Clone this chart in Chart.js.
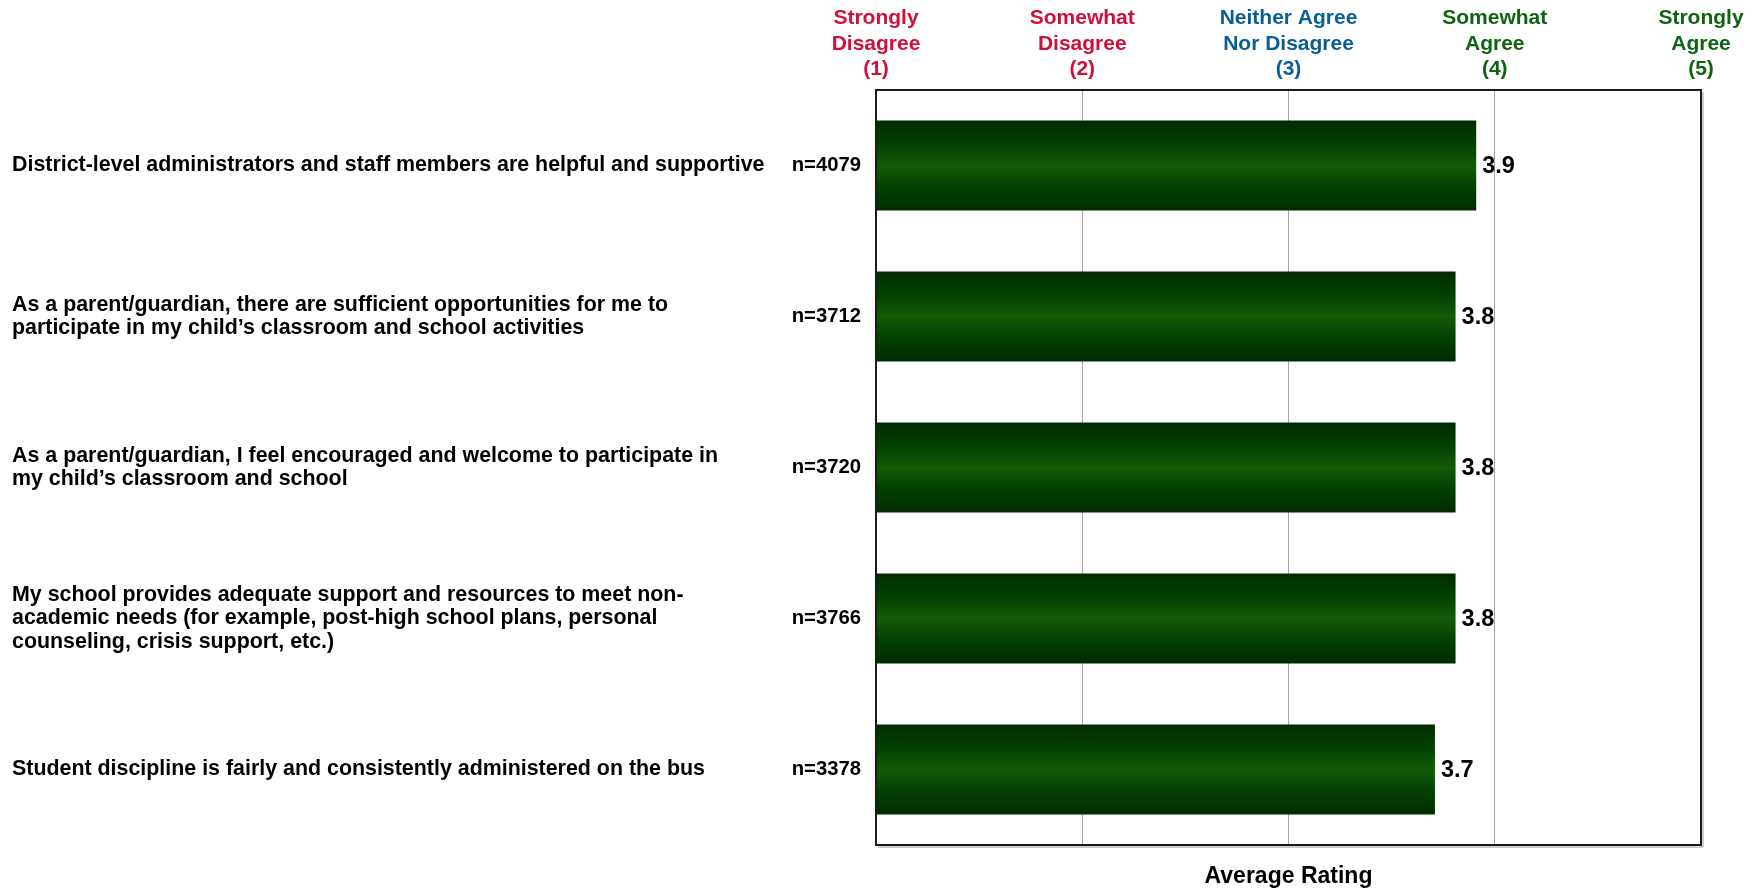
<!DOCTYPE html>
<html>
<head>
<meta charset="utf-8">
<script src="https://cdn.jsdelivr.net/npm/chart.js@4.4.1/dist/chart.umd.min.js"></script>
<style>
  html, body { margin: 0; padding: 0; background: #fff; }
  #wrap { width: 1762px; height: 890px; }
</style>
</head>
<body>
<div id="wrap"><canvas id="ratingChart"></canvas></div>
<script>
// questions (each one split into its printed lines)
var questions = [
  ["District-level administrators and staff members are helpful and supportive"],
  ["As a parent/guardian, there are sufficient opportunities for me to", "participate in my child\u2019s classroom and school activities"],
  ["As a parent/guardian, I feel encouraged and welcome to participate in", "my child\u2019s classroom and school"],
  ["My school provides adequate support and resources to meet non-", "academic needs (for example, post-high school plans, personal", "counseling, crisis support, etc.)"],
  ["Student discipline is fairly and consistently administered on the bus"]
];
var counts = ["n=4079", "n=3712", "n=3720", "n=3766", "n=3378"];
var ratings = [3.91, 3.81, 3.81, 3.81, 3.71];

// scale header labels, 1..5
var scaleLabels = [
  ["Strongly", "Disagree", "(1)"],
  ["Somewhat", "Disagree", "(2)"],
  ["Neither Agree", "Nor Disagree", "(3)"],
  ["Somewhat", "Agree", "(4)"],
  ["Strongly", "Agree", "(5)"]
];
var scaleColors = ["#d0103a", "#d0103a", "#0a5e96", "#0e6410", "#0e6410"];

var FONT = "'Liberation Sans', Arial, Helvetica, sans-serif";
var BAR_PCT = 0.595;

// each bar gets its own vertical gradient (dark edges, lighter middle)
function barFill(c) {
  const y = c.chart.scales.y;
  if (!y || !y.height) return '#0b4f0b';
  const mid = y.getPixelForValue(c.dataIndex);
  const h = y.height / questions.length * BAR_PCT;
  const top = mid - h / 2;
  const g = c.chart.ctx.createLinearGradient(0, top, 0, top + h);
  g.addColorStop(0, '#002c00');
  g.addColorStop(0.25, '#024002');
  g.addColorStop(0.5, '#105c05');
  g.addColorStop(0.75, '#024002');
  g.addColorStop(1, '#002c00');
  return g;
}

// value text at the end of each bar
const valueLabels = {
  id: 'valueLabels',
  afterDatasetsDraw(chart) {
    const ctx = chart.ctx;
    ctx.save();
    ctx.font = "bold 23.5px " + FONT;
    ctx.fillStyle = '#000';
    ctx.textAlign = 'left';
    ctx.textBaseline = 'middle';
    chart.getDatasetMeta(0).data.forEach(function (bar, i) {
      ctx.fillText(ratings[i].toFixed(1), bar.x + 6, bar.y + 1);
    });
    ctx.restore();
  }
};

// frame round the plot
const plotBox = {
  id: 'plotBox',
  afterDraw(chart) {
    const a = chart.chartArea;
    const ctx = chart.ctx;
    ctx.save();
    ctx.strokeStyle = '#9a9a9a';
    ctx.lineWidth = 1;
    ctx.beginPath();
    ctx.moveTo(a.right + 2, a.top + 2);
    ctx.lineTo(a.right + 2, a.bottom + 2);
    ctx.lineTo(a.left + 2, a.bottom + 2);
    ctx.stroke();
    ctx.strokeStyle = '#1a1a1a';
    ctx.lineWidth = 2;
    ctx.strokeRect(a.left, a.top, a.right - a.left, a.bottom - a.top);
    ctx.restore();
  }
};

const chart = new Chart(document.getElementById('ratingChart'), {
  type: 'bar',
  data: {
    labels: questions,
    datasets: [{
      label: 'Average Rating',
      data: ratings,
      backgroundColor: barFill,
      borderWidth: 0,
      barPercentage: BAR_PCT,
      categoryPercentage: 1.0
    }]
  },
  options: {
    indexAxis: 'y',
    responsive: true,
    maintainAspectRatio: false,
    animation: false,
    layout: { padding: { left: 12, right: 61, top: 0, bottom: 0 } },
    plugins: {
      legend: { display: false },
      tooltip: { enabled: false }
    },
    scales: {
      x: {
        type: 'linear',
        position: 'top',
        min: 1,
        max: 5,
        afterFit: function (s) { s.height = 90; },
        border: { display: false },
        grid: { color: '#aca2a0', lineWidth: 1, drawTicks: false },
        ticks: {
          stepSize: 1,
          padding: 8,
          maxRotation: 0,
          autoSkip: false,
          font: { family: FONT, size: 21, weight: 'bold', lineHeight: 1.21 },
          color: function (c) { return scaleColors[c.index]; },
          callback: function (v) { return scaleLabels[v - 1]; }
        }
      },
      x2: {
        type: 'linear',
        position: 'bottom',
        min: 1,
        max: 5,
        afterFit: function (s) { s.height = 45; },
        border: { display: false },
        grid: { display: false },
        ticks: { display: false },
        title: {
          display: true,
          text: 'Average Rating',
          color: '#000',
          padding: { top: 17, bottom: 0 },
          font: { family: FONT, size: 23, weight: 'bold', lineHeight: 1.2 }
        }
      },
      y: {
        type: 'category',
        position: 'left',
        weight: 1,
        afterFit: function (s) { s.width = 770; },
        border: { display: false },
        grid: { display: false },
        ticks: {
          crossAlign: 'far',
          color: '#000',
          autoSkip: false,
          font: { family: FONT, size: 21.4, weight: 'bold', lineHeight: 1.1 }
        }
      },
      y2: {
        type: 'category',
        position: 'left',
        weight: 0,
        labels: counts,
        afterFit: function (s) { s.width = 94; },
        border: { display: false },
        grid: { display: false },
        ticks: {
          padding: 7,
          color: '#000',
          autoSkip: false,
          font: { family: FONT, size: 20.3, weight: 'bold' }
        }
      }
    }
  },
  plugins: [valueLabels, plotBox]
});
</script>
</body>
</html>
